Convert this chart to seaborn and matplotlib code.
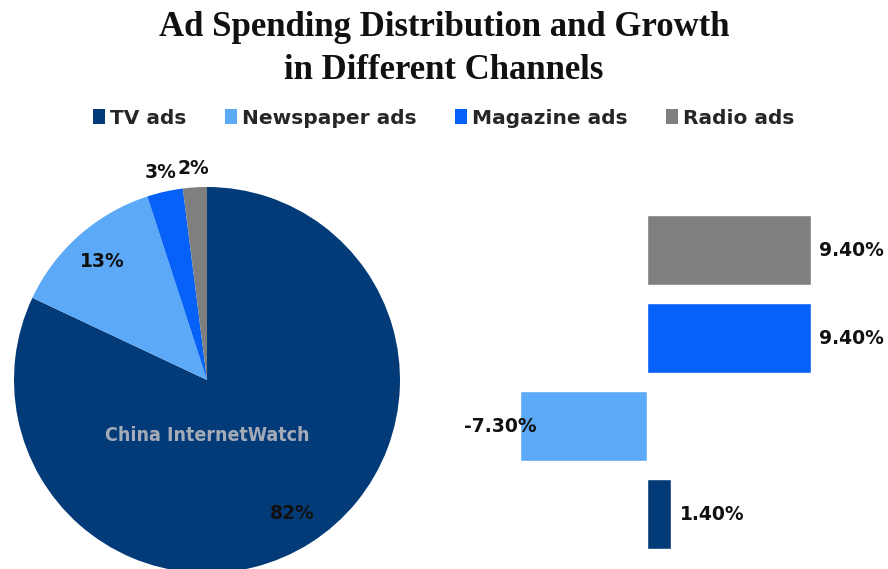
import matplotlib
matplotlib.use("Agg")
import matplotlib.pyplot as plt
from matplotlib.patches import Patch
import numpy as np
import pandas as pd
import seaborn as sns

# Channel data
channels = ["TV ads", "Newspaper ads", "Magazine ads", "Radio ads"]
share_pct = [82, 13, 3, 2]
growth_pct = [1.4, -7.3, 9.4, 9.4]
colors = ["#033a78", "#5ba9f7", "#0561f7", "#7f7f7f"]

title_text = "Ad Spending Distribution and Growth\nin Different Channels"
watermark = "China InternetWatch"

sns.set_theme(style="white")
plt.rcParams["font.family"] = ["DejaVu Sans"]

W, H = 888, 569
fig = plt.figure(figsize=(W / 100, H / 100), dpi=100)
fig.patch.set_facecolor("white")


def px_box(left, top, width, height):
    return [left / W, 1 - (top + height) / H, width / W, height / H]


# Title
fig.text(0.5, 1 - 49 / H, title_text, ha="center", va="center",
         family="Liberation Serif", weight="bold", fontsize=25,
         linespacing=1.38, color="#111111")

# Legend
handles = [Patch(facecolor=c, edgecolor="none") for c in colors]
fig.legend(handles, channels, loc="center", bbox_to_anchor=(0.5, 1 - 118 / H),
           ncol=4, frameon=False, handlelength=0.6, handleheight=0.7,
           handletextpad=0.25, columnspacing=1.9,
           prop={"family": "DejaVu Sans", "weight": "bold", "size": 14.5})

# Pie of spending share
R = 193
cx, cy = 207, 380
ax_pie = fig.add_axes(px_box(cx - R, cy - R, 2 * R, 2 * R))
wedges, _ = ax_pie.pie(share_pct, colors=colors, startangle=90,
                       counterclock=False, radius=1,
                       wedgeprops={"linewidth": 0})
ax_pie.set_xlim(-1, 1)
ax_pie.set_ylim(-1, 1)
ax_pie.set_aspect("equal")
ax_pie.axis("off")

for w, v in zip(wedges, share_pct):
    mid = np.deg2rad((w.theta1 + w.theta2) / 2)
    r = 0.82 if v >= 10 else 1.1
    ax_pie.text(r * np.cos(mid), r * np.sin(mid), f"{v}%", ha="center",
                va="center", fontsize=13.5, weight="bold", color="#111111",
                clip_on=False)

ax_pie.text(0.0, -0.29, watermark, ha="center", va="center",
            family="DejaVu Sans", stretch="condensed", weight="bold",
            fontsize=14, color="#a3aab8")

# Horizontal bars of growth
ax_bar = fig.add_axes(px_box(440, 190, 448, 379))
df = pd.DataFrame({"channel": channels, "growth": growth_pct})
order = channels[::-1]
sns.barplot(data=df, x="growth", y="channel", hue="channel", order=order,
            hue_order=channels, palette=colors, width=0.8, legend=False,
            orient="h", ax=ax_bar, saturation=1)
zero_px, unit_px = 647, 17.45
ax_bar.set_xlim((440 - zero_px) / unit_px, (888 - zero_px) / unit_px)
ax_bar.set_ylim((569 - 250) / 88, (190 - 250) / 88)
ax_bar.axis("off")

for i, ch in enumerate(order):
    v = df.loc[df["channel"] == ch, "growth"].iloc[0]
    if v >= 0:
        ax_bar.annotate(f"{v:.2f}%", (v, i), xytext=(6, 0),
                        textcoords="offset points", ha="left", va="center",
                        fontsize=13.5, weight="bold", color="#111111")
    else:
        ax_bar.annotate(f"{v:.2f}%", (v, i), xytext=(12, 0),
                        textcoords="offset points", ha="right", va="center",
                        fontsize=13.5, weight="bold", color="#111111")

fig.savefig("out.png", dpi=100, facecolor="white")
